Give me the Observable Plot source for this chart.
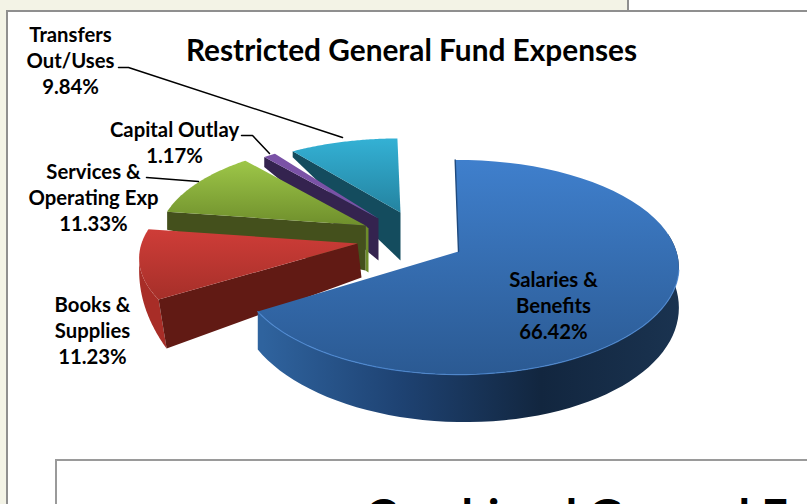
<!DOCTYPE html>
<html>
<head>
<meta charset="utf-8">
<script src="https://cdn.jsdelivr.net/npm/d3@7"></script>
<script src="https://cdn.jsdelivr.net/npm/@observablehq/plot@0.6"></script>
<style>
  html, body { margin: 0; padding: 0; background: #fff; overflow: hidden; }
  svg { display: block; }
</style>
</head>
<body>
<div id="chart"></div>
<script>
// Budget shares, clockwise from twelve o'clock
const categories = ["Salaries &\nBenefits", "Books &\nSupplies", "Services &\nOperating Exp", "Capital Outlay", "Transfers\nOut/Uses"];
const shares = [66.42, 11.23, 11.33, 1.17, 9.84];
const titleText = "Restricted General Fund Expenses";
const nextChartTitle = "Combined General F";

// Tilted-pie camera: each wedge has its own pulled-out apex and foreshortened radii
const rotation = -1;
const perspective = 0.147;
const apexX = [458, 357, 365, 378, 400];
const apexY = [251, 243, 225, 218, 212];
const radiusX = [218, 216, 205, 195, 203];
const radiusY = [105, 98, 95, 90, 85];

// Cut-face extrusion for each wedge: depth and sideways drift at rim and at apex
const cutRimDepth = [0, 49, 18, 10, 6];
const cutApexDepth = [0, 34, 45, 42, 48];
const cutRimDrift = [0, 8, 0, 0, 0];
const cutApexDrift = [0, 4, 0, 0, 0];

const topFills = ["url(#blueTop)", "url(#redTop)", "url(#greenTop)", "#7a52a6", "url(#tealTop)"];
const cutFills = ["#1f4a7e", "#611a14", "#44501c", "#34234f", "#144c5e"];

const gradients = [
  {id: "blueTop", y1: 161, y2: 372, stops: ["#3f7fcc", "#2b5a93"]},
  {id: "redTop", y1: 228, y2: 300, stops: ["#cf3d38", "#a52f29"]},
  {id: "greenTop", y1: 161, y2: 225, stops: ["#9dc648", "#6f8f2c"]},
  {id: "tealTop", y1: 136, y2: 212, stops: ["#34b2d6", "#2483a0"]}
];
const blueWallStops = ["#2f639e", "#1e4272", "#12263f", "#1a3350"];

const pieAngles = d3.pie().sort(null).startAngle((rotation * Math.PI) / 180).endAngle(((rotation + 360) * Math.PI) / 180)(shares);
const startDeg = pieAngles.map((d) => (d.startAngle * 180) / Math.PI);
const endDeg = pieAngles.map((d) => (d.endAngle * 180) / Math.PI);

// Position of a rim point on wedge i, seen through the tilted camera
function rim(i, deg) {
  const a = (deg * Math.PI) / 180;
  const u = Math.sin(a), v = -Math.cos(a);
  const k = 1 / (1 - perspective * v);
  return {x: apexX[i] + radiusX[i] * u * k, y: apexY[i] + radiusY[i] * v * k};
}
const arc = (i, from, to) => d3.range(0, 1.0001, 1 / 60).map((t) => rim(i, from + (to - from) * t));
const apex = (i) => ({x: apexX[i], y: apexY[i]});

const topFace = (i) => [apex(i), ...arc(i, startDeg[i], endDeg[i])];
function cutFace(i) {
  const o = rim(i, startDeg[i]), c = apex(i);
  return [o, c, {x: c.x + cutApexDrift[i], y: c.y + cutApexDepth[i]}, {x: o.x + cutRimDrift[i], y: o.y + cutRimDepth[i]}];
}

// Outer wall of the large wedge: deeper towards the viewer
function blueWall() {
  const top = arc(0, 80, endDeg[0]);
  const bottom = top.map((p, j) => {
    const deg = 80 + (endDeg[0] - 80) * (j / 60);
    const v = Math.max(0, -Math.cos((deg * Math.PI) / 180));
    const depth = 36 + 14 * Math.sin((Math.PI * (deg - 80)) / 170) - 2 * v;
    return {x: p.x, y: p.y + depth};
  });
  return [...top, ...bottom.reverse()];
}
// Outer wall of the red wedge tapers away to nothing at its far end
function redWall() {
  const top = arc(1, startDeg[1] + 24, startDeg[1]);
  const bottom = top.map((p, j) => ({x: p.x + 8 * (j / 60) ** 2, y: p.y + 12 + 37 * (j / 60)}));
  return [top[0], ...top, ...bottom.reverse()];
}
// Narrow sliver of the green wedge showing past its apex
const greenSliver = () => [apex(2), {x: apexX[2] + 3, y: apexY[2] + 3}, {x: apexX[2] + 3, y: apexY[2] + 47}, {x: apexX[2], y: apexY[2] + 45}];

const polygon = (points, fill) => Plot.line(points, {x: "x", y: "y", fill, stroke: "none"});
const wedge = (i) => [polygon(cutFace(i), cutFills[i]), polygon(topFace(i), topFills[i])];

// Page furniture around the chart
const panels = [
  {x1: 0, x2: 628, y1: 0, y2: 11, fill: "#f3f3e6"},
  {x1: 0, x2: 6, y1: 0, y2: 504, fill: "#f3f3e6"},
  {x1: 627, x2: 629, y1: 0, y2: 11, fill: "#8f8f8f"},
  {x1: 6, x2: 807, y1: 10, y2: 12, fill: "#8f8f8f"},
  {x1: 6, x2: 8, y1: 10, y2: 504, fill: "#8f8f8f"},
  {x1: 55, x2: 807, y1: 459, y2: 504, fill: "#9a9a9a"},
  {x1: 57, x2: 807, y1: 461, y2: 504, fill: "#ffffff"}
];

const labelAnchors = [
  {x: 553, y: 304},
  {x: 92, y: 329},
  {x: 93, y: 196},
  {x: 174, y: 141},
  {x: 70, y: 59}
];
const labelRows = categories.map((name, i) => ({...labelAnchors[i], text: `${name}\n${shares[i].toFixed(2)}%`}));

const leaders = [
  {id: "transfers", x: 118, y: 67}, {id: "transfers", x: 128, y: 67}, {id: "transfers", x: 342, y: 137},
  {id: "capital", x: 241, y: 135}, {id: "capital", x: 252, y: 135}, {id: "capital", x: 269, y: 153},
  {id: "services", x: 146, y: 177}, {id: "services", x: 198, y: 181}
];

// Gradient definitions used by the wedge fills
function defs() {
  const d = d3.create("svg:defs");
  const add = (id, attrs, stops) => {
    const g = d.append("linearGradient").attr("id", id).attr("gradientUnits", "userSpaceOnUse");
    Object.entries(attrs).forEach(([k, v]) => g.attr(k, v));
    stops.forEach((c, i) => g.append("stop").attr("offset", i / (stops.length - 1)).attr("stop-color", c));
  };
  gradients.forEach((g) => add(g.id, {x1: 0, x2: 0, y1: g.y1, y2: g.y2}, g.stops));
  add("blueWall", {x1: 262, x2: 680, y1: 0, y2: 0}, blueWallStops);
  return d.node();
}

const chart = Plot.plot({
  width: 807,
  height: 504,
  margin: 0,
  style: {background: "#fff", color: "#000"},
  x: {domain: [0, 807], range: [0, 807], axis: null},
  y: {domain: [0, 504], range: [0, 504], axis: null},
  marks: [
    defs,
    Plot.rect(panels, {x1: "x1", x2: "x2", y1: "y1", y2: "y2", fill: "fill"}),
    ...wedge(4),
    ...wedge(3),
    polygon(greenSliver(), "#6d8c2a"),
    ...wedge(2),
    polygon(redWall(), "#a82d27"),
    ...wedge(1),
    polygon(blueWall(), "url(#blueWall)"),
    polygon(topFace(0), "url(#blueTop)"),
    Plot.line([rim(0, startDeg[0]), apex(0)], {x: "x", y: "y", stroke: "#1f4a7e", strokeWidth: 1.4}),
    Plot.line(arc(0, 100, endDeg[0]), {x: "x", y: "y", stroke: "#4c8ad4", strokeWidth: 1.2, strokeOpacity: 0.8}),
    Plot.line(leaders, {x: "x", y: "y", z: "id", stroke: "#000", strokeWidth: 1.5}),
    Plot.text(labelRows, {x: "x", y: "y", text: "text", fontFamily: "Lato", fontWeight: 700, fontSize: 20.3, lineHeight: 1.3, fill: "#000"}),
    Plot.text([titleText], {x: () => 411, y: () => 51, text: (d) => d, fontFamily: "Lato", fontWeight: 700, fontSize: 29.8, fill: "#000"}),
    Plot.text([nextChartTitle], {x: () => 365, y: () => 517, text: (d) => d, textAnchor: "start", fontFamily: "Lato", fontWeight: 700, fontSize: 46.5, fill: "#000"})
  ]
});
document.getElementById("chart").append(chart);
</script>
</body>
</html>
